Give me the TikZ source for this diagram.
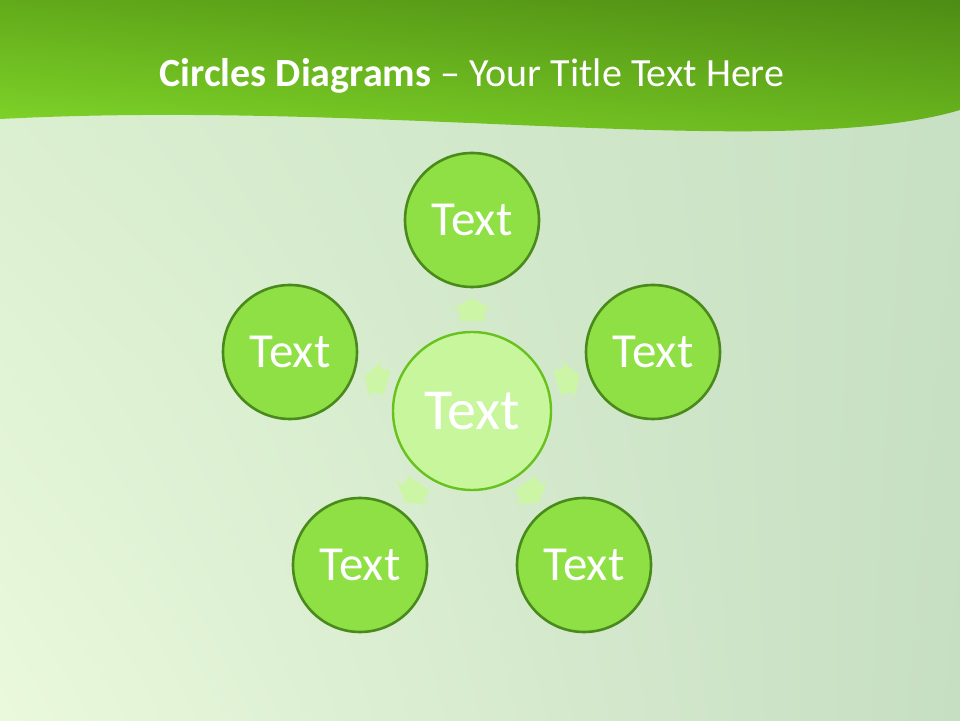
\documentclass[tikz,border=0pt]{standalone}
\usepackage{fontspec}
\setmainfont{Carlito}
\usetikzlibrary{shadings,calc}
\begin{document}
\begin{tikzpicture}[x=1pt,y=1pt,
  outer/.style={circle,draw=cOuterLine,line width=2.6pt,fill=cOuter,minimum size=134pt,inner sep=0pt,text=white,font=\fontsize{49}{49}\selectfont},
  inner/.style={circle,draw=cInnerLine,line width=2.4pt,fill=cInner,minimum size=158pt,inner sep=0pt,text=white,font=\fontsize{58}{58}\selectfont},
  arrowshape/.style={fill=cArrow,draw=none}]
\definecolor{cOuter}{HTML}{8EE045}
\definecolor{cOuterLine}{HTML}{4A8A1C}
\definecolor{cInner}{HTML}{C8F69C}
\definecolor{cInnerLine}{HTML}{68C21E}
\definecolor{cArrow}{HTML}{CCF6A6}
\useasboundingbox (0,0) rectangle (960,720);
% background
\shade[upper left={rgb,255:red,216;green,238;blue,206}, lower left={rgb,255:red,234;green,249;blue,220},
       upper right={rgb,255:red,200;green,224;blue,196}, lower right={rgb,255:red,198;green,222;blue,194}] (0,0) rectangle (960,720);
% header
\shade[upper left={rgb,255:red,98;green,170;blue,26}, upper right={rgb,255:red,78;green,140;blue,20},
       lower left={rgb,255:red,128;green,214;blue,42}, lower right={rgb,255:red,106;green,182;blue,30}]
  (0,720) -- (960,720) -- (960,610) .. controls (910,595) and (830,587) .. (700,589)
  .. controls (500,592) and (250,614) .. (0,601) -- cycle;
\node[anchor=base,text=white,font=\fontsize{40}{40}\selectfont] (title) at (472,633) {\textbf{Circles Diagrams} – Your Title Text Here};
% circles
\coordinate (c) at (472,309);
\foreach \a in {90,18,-54,234,162}{
  \begin{scope}[shift={($(c)+(\a:101)$)},rotate=\a-90]
    \fill[arrowshape] (-12.5,-11.5) -- (12.5,-11.5) -- (12.5,0) -- (20,0) -- (0,12) -- (-20,0) -- (-12.5,0) -- cycle;
  \end{scope}
}
\node[inner] (center) at (c) {Text};
\node[outer] (top) at (472,500) {Text};
\node[outer] (right) at (653,368) {Text};
\node[outer] (left) at (290,368) {Text};
\node[outer] (bleft) at (360,155) {Text};
\node[outer] (bright) at (584,155) {Text};
\end{tikzpicture}
\end{document}
